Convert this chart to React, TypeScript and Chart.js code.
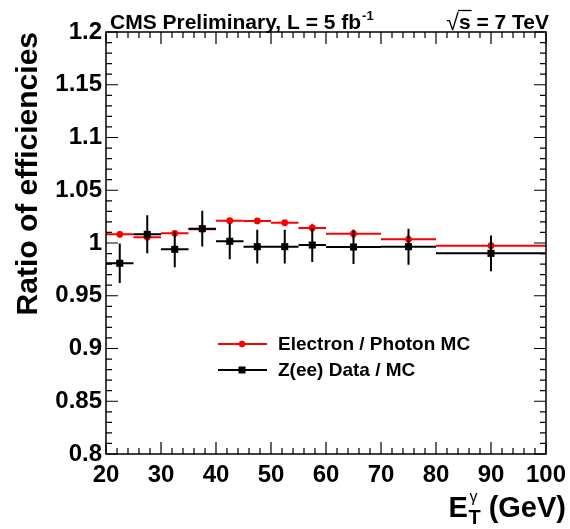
import React, { useEffect, useRef } from "react";
import { Chart, registerables } from "chart.js";

Chart.register(...registerables);

// ---- data ----
const binLow = [20, 25, 30, 35, 40, 45, 50, 55, 60, 70, 80];
const binHigh = [25, 30, 35, 40, 45, 50, 55, 60, 70, 80, 100];
const elecPhotonMC = [1.0082, 1.0054, 1.0092, 1.013, 1.0211, 1.0209, 1.0192, 1.0142, 1.0088, 1.0035, 0.9974];
const elecPhotonErr = [0.003, 0.002, 0.002, 0.002, 0.002, 0.002, 0.002, 0.004, 0.004, 0.004, 0.003];
const zeeDataMC = [0.9808, 1.0082, 0.994, 1.0136, 1.0016, 0.9965, 0.9965, 0.9981, 0.9962, 0.9965, 0.9902];
const zeeErr = [0.0187, 0.018, 0.017, 0.017, 0.017, 0.016, 0.016, 0.016, 0.016, 0.017, 0.017];
const xRange = [20, 100];
const yRange = [0.8, 1.2];
const xMajor = 10;
const xMinor = 2;
const yMajor = 0.05;
const yMinor = 0.01;
const seriesNames = ["Electron / Photon MC", "Z(ee) Data / MC"];
const seriesColors = ["#ff0000", "#000000"];

const FONT = "'Liberation Sans', Arial, Helvetica, sans-serif";

const centers = binLow.map((l, i) => (l + binHigh[i]) / 2);

const errorPlugin = {
  id: "binErrors",
  beforeDatasetDraw(chart: any, args: any) {
    const ds = chart.data.datasets[args.index];
    const xs = chart.scales.x;
    const ys = chart.scales.y;
    const ctx = chart.ctx;
    const vals: number[] = ds.vals;
    const errs: number[] = ds.errs;
    ctx.save();
    ctx.beginPath();
    ctx.rect(chart.chartArea.left, chart.chartArea.top, chart.chartArea.right - chart.chartArea.left, chart.chartArea.bottom - chart.chartArea.top);
    ctx.clip();
    ctx.strokeStyle = ds.borderColor;
    ctx.lineWidth = 2;
    for (let i = 0; i < vals.length; i++) {
      const y = ys.getPixelForValue(vals[i]);
      const x0 = xs.getPixelForValue(binLow[i]);
      const x1 = xs.getPixelForValue(binHigh[i]);
      const xc = xs.getPixelForValue(centers[i]);
      ctx.beginPath();
      ctx.moveTo(x0, y);
      ctx.lineTo(x1, y);
      ctx.moveTo(xc, ys.getPixelForValue(vals[i] - errs[i]));
      ctx.lineTo(xc, ys.getPixelForValue(vals[i] + errs[i]));
      ctx.stroke();
    }
    ctx.restore();
  },
};

const framePlugin = {
  id: "rootFrame",
  afterDraw(chart: any) {
    const ctx = chart.ctx;
    const xs = chart.scales.x;
    const ys = chart.scales.y;
    const { left, right, top, bottom } = chart.chartArea;
    ctx.save();
    ctx.strokeStyle = "#000";
    ctx.lineWidth = 1.5;
    ctx.strokeRect(left, top, right - left, bottom - top);
    ctx.lineWidth = 1.2;
    ctx.beginPath();
    const nx = Math.round((xRange[1] - xRange[0]) / xMinor);
    for (let i = 0; i <= nx; i++) {
      const v = xRange[0] + i * xMinor;
      const major = Math.abs((v - xRange[0]) / xMajor - Math.round((v - xRange[0]) / xMajor)) < 1e-6;
      const len = major ? 12 : 6;
      const px = xs.getPixelForValue(v);
      ctx.moveTo(px, bottom);
      ctx.lineTo(px, bottom - len);
      ctx.moveTo(px, top);
      ctx.lineTo(px, top + len);
    }
    const ny = Math.round((yRange[1] - yRange[0]) / yMinor);
    for (let i = 0; i <= ny; i++) {
      const v = yRange[0] + i * yMinor;
      const major = i % Math.round(yMajor / yMinor) === 0;
      const len = major ? 12 : 6;
      const py = ys.getPixelForValue(v);
      ctx.moveTo(left, py);
      ctx.lineTo(left + len, py);
      ctx.moveTo(right, py);
      ctx.lineTo(right - len, py);
    }
    ctx.stroke();

    // header
    ctx.fillStyle = "#000";
    ctx.textBaseline = "alphabetic";
    ctx.textAlign = "left";
    ctx.font = `bold 21px ${FONT}`;
    const h1 = "CMS Preliminary, L = 5 fb";
    ctx.fillText(h1, 110, 29);
    const w1 = ctx.measureText(h1).width;
    ctx.font = `bold 13px ${FONT}`;
    ctx.fillText("-1", 110 + w1 + 1, 20);

    ctx.font = `bold 21px ${FONT}`;
    const rs = "s = 7 TeV";
    const rsw = ctx.measureText(rs).width;
    const sx = 549 - rsw;
    ctx.fillText(rs, sx, 29);
    ctx.textAlign = "right";
    ctx.font = `23px ${FONT}`;
    ctx.fillText("\u221A", sx, 30);
    ctx.textAlign = "left";
    ctx.font = `bold 21px ${FONT}`;
    const sw = ctx.measureText("s").width;
    ctx.lineWidth = 1.3;
    ctx.beginPath();
    ctx.moveTo(sx - 1, 10.5);
    ctx.lineTo(sx + sw + 1, 10.5);
    ctx.stroke();

    // y title
    ctx.save();
    ctx.translate(37, 32);
    ctx.rotate(-Math.PI / 2);
    ctx.textAlign = "right";
    ctx.textBaseline = "alphabetic";
    ctx.font = `bold 30px ${FONT}`;
    ctx.fillText("Ratio of efficiencies", 0, 0);
    ctx.restore();

    // x title: E_T^gamma (GeV)
    ctx.font = `bold 29px ${FONT}`;
    const tail = " (GeV)";
    const tw = ctx.measureText(tail).width;
    const ew = ctx.measureText("E").width;
    ctx.font = `bold 20px ${FONT}`;
    const subw = Math.max(ctx.measureText("T").width, ctx.measureText("\u03B3").width);
    const endX = 566;
    const tailX = endX - tw;
    const subX = tailX - subw;
    const eX = subX - ew - 0.5;
    const base = 517;
    ctx.textAlign = "left";
    ctx.font = `bold 29px ${FONT}`;
    ctx.fillText("E", eX, base);
    ctx.fillText(tail, tailX, base);
    ctx.font = `bold 20px ${FONT}`;
    ctx.fillText("T", subX, base + 7);
    ctx.font = `16px ${FONT}`;
    ctx.fillText("\u03B3", subX + 1, base - 15);

    // legend
    const ly = [344, 370];
    for (let k = 0; k < 2; k++) {
      ctx.strokeStyle = seriesColors[k];
      ctx.fillStyle = seriesColors[k];
      ctx.lineWidth = 2;
      ctx.beginPath();
      ctx.moveTo(218, ly[k]);
      ctx.lineTo(267, ly[k]);
      ctx.stroke();
      if (k === 0) {
        ctx.beginPath();
        ctx.arc(242, ly[k], 3.2, 0, Math.PI * 2);
        ctx.fill();
      } else {
        ctx.fillRect(238.5, ly[k] - 3.5, 7, 7);
      }
      ctx.fillStyle = "#000";
      ctx.font = `bold 19px ${FONT}`;
      ctx.textBaseline = "middle";
      ctx.fillText(seriesNames[k], 278, ly[k] + 1);
    }
    ctx.restore();
  },
};

function fmt(v: number) {
  return String(parseFloat(v.toFixed(2)));
}

export default function App() {
  const ref = useRef<HTMLCanvasElement | null>(null);
  useEffect(() => {
    document.body.style.margin = "0";
    if (!ref.current) return;
    const chart = new Chart(ref.current, {
      type: "scatter",
      data: {
        datasets: [
          {
            label: seriesNames[0],
            data: centers.map((x, i) => ({ x, y: elecPhotonMC[i] })),
            vals: elecPhotonMC,
            errs: elecPhotonErr,
            borderColor: seriesColors[0],
            backgroundColor: seriesColors[0],
            pointStyle: "circle",
            pointRadius: 3.4,
            pointBorderWidth: 0,
            showLine: false,
            order: 2,
          } as any,
          {
            label: seriesNames[1],
            data: centers.map((x, i) => ({ x, y: zeeDataMC[i] })),
            vals: zeeDataMC,
            errs: zeeErr,
            borderColor: seriesColors[1],
            backgroundColor: seriesColors[1],
            pointStyle: "rect",
            pointRadius: 5,
            pointBorderWidth: 0,
            showLine: false,
            order: 1,
          } as any,
        ],
      },
      options: {
        animation: false,
        responsive: false,
        devicePixelRatio: 1,
        events: [],
        layout: { padding: { top: 32, right: 24, left: 0, bottom: 0 } },
        plugins: { legend: { display: false }, tooltip: { enabled: false }, title: { display: false } },
        scales: {
          x: {
            type: "linear",
            min: xRange[0],
            max: xRange[1],
            grid: { display: false, drawTicks: false },
            border: { display: false },
            afterFit: (s: any) => {
              s.height = 75;
              s.paddingLeft = 0;
              s.paddingRight = 0;
            },
            ticks: {
              stepSize: xMajor,
              autoSkip: false,
              maxRotation: 0,
              padding: 7,
              color: "#000",
              font: { family: FONT, size: 24, weight: "bold" },
              callback: (v: any) => fmt(Number(v)),
            },
          },
          y: {
            type: "linear",
            min: yRange[0],
            max: yRange[1],
            grid: { display: false, drawTicks: false },
            border: { display: false },
            afterFit: (s: any) => {
              s.width = 106;
              s.paddingTop = 0;
              s.paddingBottom = 0;
            },
            ticks: {
              stepSize: yMajor,
              autoSkip: false,
              padding: 4,
              color: "#000",
              font: { family: FONT, size: 24, weight: "bold" },
              callback: (v: any) => fmt(Number(v)),
            },
          },
        },
      },
      plugins: [errorPlugin, framePlugin],
    } as any);
    return () => chart.destroy();
  }, []);
  return (
    <div style={{ position: "fixed", left: 0, top: 0, width: 570, height: 529, background: "#fff" }}>
      <canvas ref={ref} width={570} height={529} style={{ display: "block", width: 570, height: 529 }} />
    </div>
  );
}
